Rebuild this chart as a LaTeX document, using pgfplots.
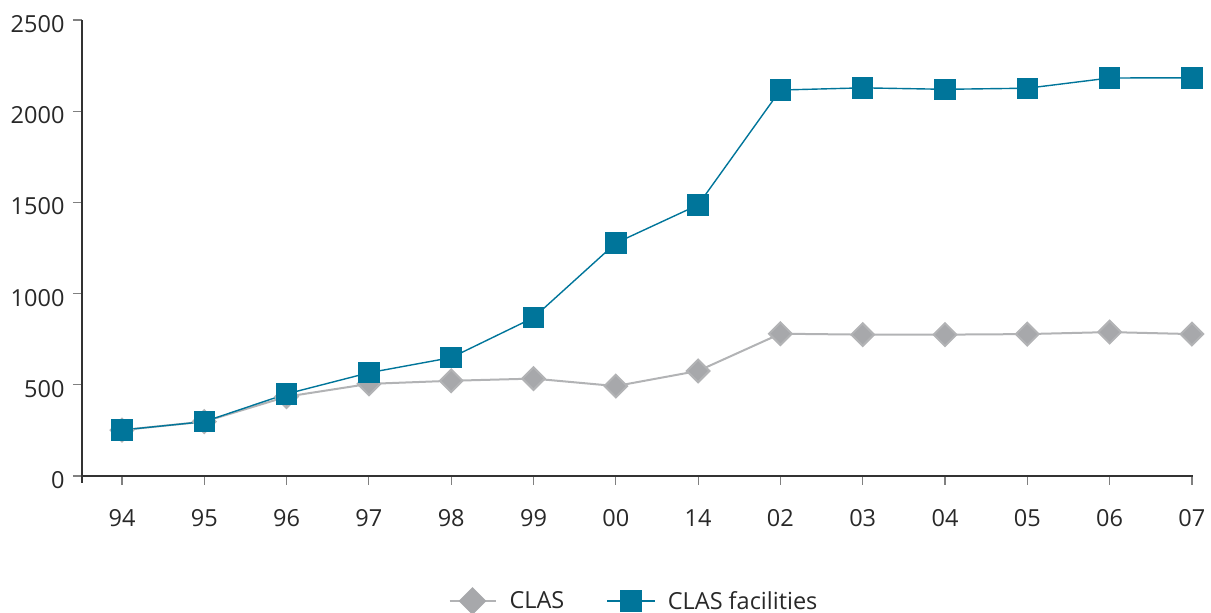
\documentclass[border=0pt]{standalone}
\usepackage{fontspec}
\setmainfont{Open Sans}
\usepackage{pgfplots}
\pgfplotsset{compat=1.18}

\definecolor{clasgray}{RGB}{167,168,171}
\definecolor{clasline}{RGB}{178,179,181}
\definecolor{clasteal}{RGB}{0,117,154}
\definecolor{axisdark}{RGB}{51,51,51}
\definecolor{tickgray}{RGB}{128,128,128}
\definecolor{textdark}{RGB}{40,40,40}

\begin{document}
\begin{tikzpicture}
\path[use as bounding box] (0,0) rectangle (1211pt,613pt);
\begin{axis}[
  at={(82pt,137pt)}, anchor=south west,
  x=82.3pt, y=0.1824pt,
  xmin=-0.486, xmax=13.01,
  ymin=0, ymax=2500,
  axis x line=bottom, axis y line=left,
  axis line style={-, axisdark, line width=1.2pt},
  xtick={0,...,13},
  xticklabels={94,95,96,97,98,99,00,14,02,03,04,05,06,07},
  ytick={0,500,1000,1500,2000,2500},
  yticklabels={0,500,1000,1500,2000,2500},
  tick align=outside,
  major tick length=9pt,
  tick style={tickgray, line width=1.2pt},
  extra x ticks={-0.486},
  extra x tick labels={},
  extra x tick style={tick style={axisdark, line width=1.2pt}, major tick length=7pt},
  xticklabel style={font=\fontsize{23.5}{27}\selectfont, text=textdark, yshift=-21pt},
  yticklabel style={font=\fontsize{23.5}{27}\selectfont, text=textdark, xshift=-5pt, yshift=-4pt},
  clip=false,
  legend columns=2,
  legend style={
    at={(634pt-82pt,12pt-137pt)}, anchor=center,
    draw=none, fill=none,
    font=\fontsize{23.5}{27}\selectfont, text=textdark,
    /tikz/every even column/.append style={column sep=40pt},
  },
  legend cell align=left,
]
\addplot[clasline, line width=2pt,
  mark=square*, mark size=8pt,
  mark options={rotate=45, fill=clasgray, draw=none},
  legend image code/.code={
    \draw[clasline, line width=2pt] (0pt,0pt) -- (46pt,0pt);
    \fill[clasgray, rotate around={45:(23pt,0pt)}] (14.2pt,-8.8pt) rectangle (31.8pt,8.8pt);
    \path (57pt,0pt);
  }]
coordinates {
(0,252) (1,298) (2,435) (3,505) (4,522) (5,534) (6,493)
(7,576) (8,780) (9,775) (10,775) (11,778) (12,789) (13,778)
};
\addlegendentry{CLAS}
\addplot[clasteal, line width=1.4pt,
  mark=square*, mark size=10pt,
  mark options={fill=clasteal, draw=none},
  legend image code/.code={
    \draw[clasteal, line width=1.6pt] (0pt,0pt) -- (48pt,0pt);
    \fill[clasteal] (14pt,-10pt) rectangle (34pt,10pt);
    \path (58pt,0pt);
  }]
coordinates {
(0,252) (1,298) (2,450) (3,566) (4,649) (5,868) (6,1277)
(7,1486) (8,2116) (9,2128) (10,2120) (11,2126) (12,2182) (13,2183)
};
\addlegendentry{CLAS facilities}
\end{axis}
\end{tikzpicture}
\end{document}
